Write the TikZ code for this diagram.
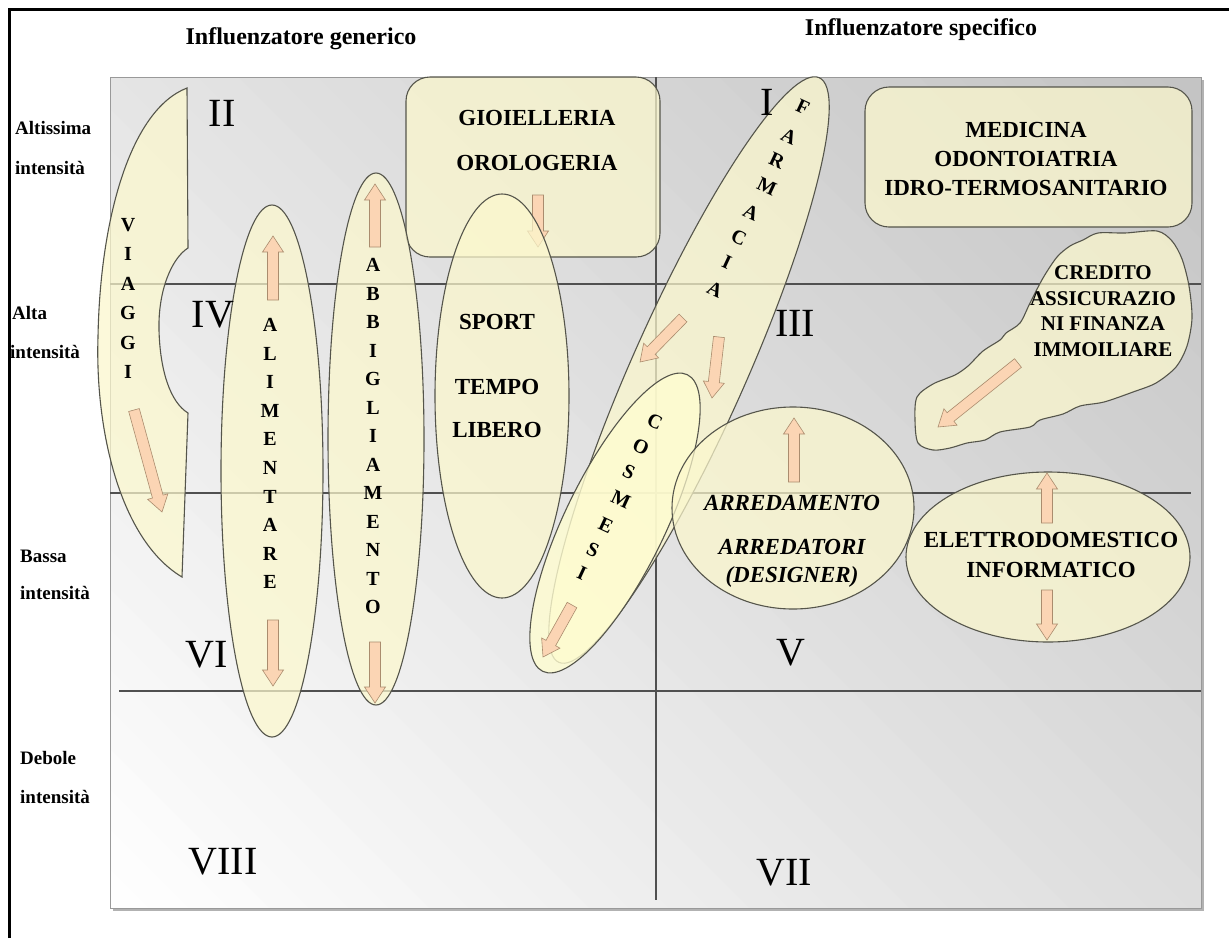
\documentclass[tikz,border=0pt]{standalone}
\usepackage{fontspec}
\setmainfont{Liberation Serif}
\definecolor{shapefill}{RGB}{252,248,205}
\definecolor{cosmfill}{RGB}{255,253,208}
\definecolor{shapeline}{RGB}{85,85,75}
\definecolor{arrfill}{RGB}{251,213,180}
\definecolor{arrline}{RGB}{170,140,110}
\definecolor{gridcol}{RGB}{80,80,80}
\tikzset{
 shp/.style={fill=shapefill, fill opacity=0.72, draw=shapeline, line width=1.1pt},
 arrstyle/.style={fill=arrfill, draw=arrline, line width=0.6pt},
 lbl/.style={font=\fontsize{23}{29}\selectfont\bfseries, align=center, inner sep=0pt},
 ltr/.style={font=\fontsize{20}{20}\selectfont\bfseries, inner sep=0pt},
 romnum/.style={font=\fontsize{40}{40}\selectfont, inner sep=0pt},
 rowlbl/.style={font=\fontsize{19}{19}\selectfont\bfseries, anchor=west, inner sep=0pt},
 ttl/.style={font=\fontsize{24}{24}\selectfont\bfseries, inner sep=0pt},
 gridln/.style={draw=gridcol, line width=1.2pt}
}
\newcommand\barr[4]{%
 \pgfmathsetmacro\bang{atan2(#2-#4,#3-#1)}%
 \pgfmathsetmacro\blen{veclen(#3-#1,#4-#2)}%
 \begin{scope}[shift={(#1,#2)},rotate=\bang]
 \draw[arrstyle] (0pt,-5.5pt) -- ({\blen pt-16pt},-5.5pt) -- ({\blen pt-16pt},-10.5pt) -- (\blen pt,0pt) -- ({\blen pt-16pt},10.5pt) -- ({\blen pt-16pt},5.5pt) -- (0pt,5.5pt) -- cycle;
 \end{scope}}
\begin{document}
\begin{tikzpicture}[x=1pt,y=-1pt]
\useasboundingbox (0,0) rectangle (1229,938);
\fill[white] (0,0) rectangle (1229,938);
\draw[line width=3pt] (9,938) -- (9,9) -- (1229,9);
\node[ttl] (tg) at (301,39) {Influenzatore generico};
\node[ttl] (ts) at (921,30) {Influenzatore specifico};
% box with diagonal gradient
\fill[gray!60] (113,80) rectangle (1204,911);
\begin{scope}
\clip (110,77) rectangle (1201,908);
\foreach \k in {0,...,48} {
  \pgfmathsetmacro\ca{\k*40-798}
  \pgfmathsetmacro\cb{\k*40-798+41}
  \pgfmathsetmacro\pc{24*(\k+0.5)/49}
  \fill[black!\pc] ({\ca-300},-300) -- ({\ca+1300},1300) -- ({\cb+1300},1300) -- ({\cb-300},-300) -- cycle;
}
\end{scope}
\draw[gray!80, line width=1pt] (110,77) rectangle (1201,908);
\draw[gridln] (656,77) -- (656,900);
\draw[gridln] (110,284) -- (1201,284);
\draw[gridln] (110,493) -- (1191,493);
\draw[gridln] (119,691) -- (1201,691);
% row labels
\node[rowlbl] (r1a) at (15,128) {Altissima};
\node[rowlbl] (r1b) at (15,168) {intensità};
\node[rowlbl] (r2a) at (12,313) {Alta};
\node[rowlbl] (r2b) at (10,352) {intensità};
\node[rowlbl] (r3a) at (20,556) {Bassa};
\node[rowlbl] (r3b) at (20,593) {intensità};
\node[rowlbl] (r4a) at (20,758) {Debole};
\node[rowlbl] (r4b) at (20,797) {intensità};
% shapes
\draw[shp, rounded corners=24pt] (406,77) rectangle (660,257);
\barr{538}{195}{538}{247}
\draw[shp] (187,88) -- (188,248) .. controls (172,258) and (158,290) .. (159,330) .. controls (160,370) and (170,402) .. (188,413) -- (182,577) .. controls (120,540) and (95,430) .. (98,337) .. controls (100,220) and (130,110) .. (187,88) -- cycle;
\barr{134}{410}{162}{512}
\draw[shp] (272,471) ellipse [x radius=51, y radius=266];
\barr{273}{300}{273}{236}
\barr{273}{620}{273}{686}
\draw[shp] (376,439) ellipse [x radius=48, y radius=266];
\barr{375}{247}{375}{184}
\barr{375}{642}{375}{703}
\draw[shp] (502,396) ellipse [x radius=67, y radius=202];
\draw[shp, rotate around={66:(689,370)}] (689,370) ellipse [x radius=320, y radius=57];
\barr{683}{318}{640}{362}
\barr{719}{337}{712}{398}
\draw[shp, fill=cosmfill, fill opacity=0.8, rotate around={64:(615,523)}] (615,523) ellipse [x radius=165, y radius=50];
\barr{572}{605}{543}{657}
\draw[shp] (793,508) ellipse [x radius=121, y radius=101];
\barr{794}{482}{794}{418}
\draw[shp] (1048,557) ellipse [x radius=142, y radius=85];
\barr{1047}{523}{1047}{473}
\barr{1047}{590}{1047}{640}
\draw[shp, rounded corners=24pt] (865,87) rectangle (1192,227);
\draw[shp] plot[smooth cycle, tension=0.5] coordinates {(1083,240) (1098,233) (1125,233) (1157,231) (1172,241) (1182,259) (1189,286) (1192,318) (1187,346) (1176,367) (1156,383) (1133,392) (1104,402) (1080,406) (1063,414) (1040,420) (1030,427) (1000,432) (985,440) (967,443) (950,448) (933,450) (918,443) (915,420) (917,397) (933,384) (955,375) (968,366) (983,351) (1000,340) (1006,333) (1020,323) (1030,303) (1043,278) (1057,257) (1070,246)};
\barr{1018}{363}{938}{427}
% texts
\node[lbl] (gio) at (537,118) {GIOIELLERIA};
\node[lbl] (oro) at (537,163) {OROLOGERIA};
\node[lbl] (spo) at (497,322) {SPORT};
\node[lbl] (tem) at (497,387) {TEMPO};
\node[lbl] (lib) at (497,430) {LIBERO};
\node[lbl] (med) at (1026,159) {MEDICINA\\ODONTOIATRIA\\IDRO-TERMOSANITARIO};
\node[lbl, font=\fontsize{21}{25.5}\selectfont\bfseries] (cre) at (1103,311) {CREDITO\\ASSICURAZIO\\NI FINANZA\\IMMOILIARE};
\node[lbl, font=\fontsize{23}{29}\selectfont\bfseries\itshape] (arr1) at (792,503) {ARREDAMENTO};
\node[lbl, font=\fontsize{23}{29}\selectfont\bfseries\itshape] (arr2) at (792,547) {ARREDATORI};
\node[lbl, font=\fontsize{23}{29}\selectfont\bfseries\itshape] (arr3) at (792,577) {(DESIGNER)};
\node[lbl, font=\fontsize{23}{30}\selectfont\bfseries] (ele) at (1051,555) {ELETTRODOMESTICO\\INFORMATICO};
\foreach \c [count=\i] in {V,I,A,G,G,I} \node[ltr] (via\i) at (128,{225+29.4*(\i-1)}) {\c};
\foreach \c [count=\i] in {A,L,I,M,E,N,T,A,R,E} \node[ltr] (ali\i) at (270,{325+28.6*(\i-1)}) {\c};
\foreach \c [count=\i] in {A,B,B,I,G,L,I,A,M,E,N,T,O} \node[ltr] (abb\i) at (373,{265+28.5*(\i-1)}) {\c};
\foreach \c/\px/\py [count=\i] in {F/803/107,A/789/137,R/777/161,M/767/187,A/751/213,C/739/238,I/727/262,A/715/290} \node[ltr, rotate=-25] (far\i) at (\px,\py) {\c};
\foreach \c/\px/\py [count=\i] in {C/655/422,O/641/447,S/629/472,M/621/500,E/606/525,S/593/550,I/582/573} \node[ltr, rotate=-25] (cos\i) at (\px,\py) {\c};
% roman numerals
\node[romnum] (nII) at (222,113) {II};
\node[romnum] (nI) at (767,102) {I};
\node[romnum] (nIV) at (213,315) {IV};
\node[romnum] (nIII) at (795,323) {III};
\node[romnum] (nVI) at (207,655) {VI};
\node[romnum] (nV) at (791,653) {V};
\node[romnum] (nVIII) at (223,862) {VIII};
\node[romnum] (nVII) at (784,873) {VII};
\end{tikzpicture}
\end{document}
